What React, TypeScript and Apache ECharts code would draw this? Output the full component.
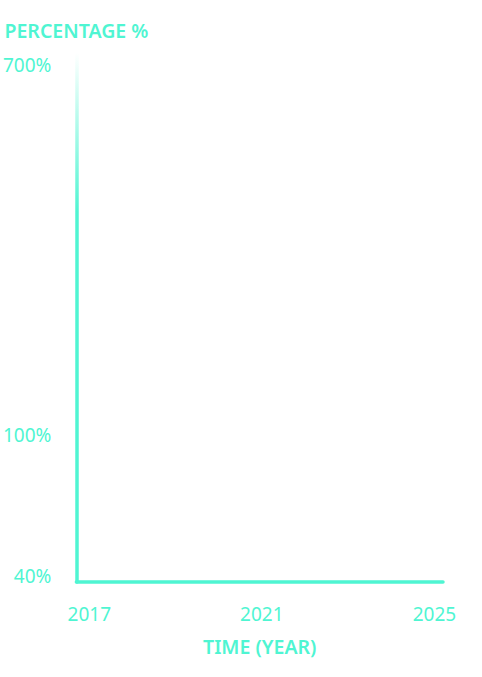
import React, { useEffect, useRef } from "react";
import * as echarts from "echarts";

const xTickYears = [2017, 2021, 2025];
const xRange = [2016.7, 2025.2];
const yTickLabels = ["40%", "100%", "700%"];
const yTickSteps = [1.1, 27.8, 97.7];
const xName = "TIME (YEAR)";
const yName = "PERCENTAGE %";

const TEAL = "#4ff5d2";
const FONT = "'Noto Sans', sans-serif";

export default function App() {
  const ref = useRef<HTMLDivElement>(null);
  useEffect(() => {
    if (!ref.current) return;
    const chart = echarts.init(ref.current, undefined, { renderer: "svg" });
    const top = 53;
    const bottom = 95;
    const H = 677;
    const yGrad = new echarts.graphic.LinearGradient(
      0,
      top,
      0,
      H - bottom,
      [
        { offset: 0, color: "rgba(79,245,210,0)" },
        { offset: 0.3, color: TEAL },
        { offset: 1, color: TEAL },
      ],
      true
    );
    chart.setOption({
      animation: false,
      backgroundColor: "#ffffff",
      grid: { left: 75.5, right: 39, top, bottom, containLabel: false },
      xAxis: {
        type: "value",
        min: xRange[0],
        max: xRange[1],
        name: xName,
        nameLocation: "middle",
        nameGap: 54,
        nameTextStyle: { color: TEAL, fontFamily: FONT, fontSize: 19.5, fontWeight: 600 },
        axisLine: { show: true, lineStyle: { color: TEAL, width: 3.5 } },
        axisTick: { show: false },
        splitLine: { show: false },
        axisLabel: {
          customValues: xTickYears,
          formatter: (v: number) => String(Math.round(v)),
          color: TEAL,
          fontFamily: FONT,
          fontSize: 19,
          fontWeight: "normal",
          margin: 22,
        },
      },
      yAxis: {
        type: "value",
        min: 0,
        max: 100,
        name: yName,
        nameLocation: "end",
        nameGap: 13,
        nameTextStyle: { color: TEAL, fontFamily: FONT, fontSize: 19.5, fontWeight: 600, align: "center" },
        axisLine: { show: true, lineStyle: { color: yGrad, width: 3.5 } },
        axisTick: { show: false },
        splitLine: { show: false },
        axisLabel: {
          customValues: yTickSteps,
          formatter: (v: number) => {
            const i = yTickSteps.findIndex((s) => Math.abs(s - v) < 1e-6);
            return i >= 0 ? yTickLabels[i] : "";
          },
          color: TEAL,
          fontFamily: FONT,
          fontSize: 19,
          fontWeight: "normal",
          margin: 25,
        },
      },
      series: [],
    });
    return () => chart.dispose();
  }, []);
  return (
    <div
      ref={ref}
      style={{ position: "absolute", left: 0, top: 0, width: 482, height: 677 }}
    />
  );
}
